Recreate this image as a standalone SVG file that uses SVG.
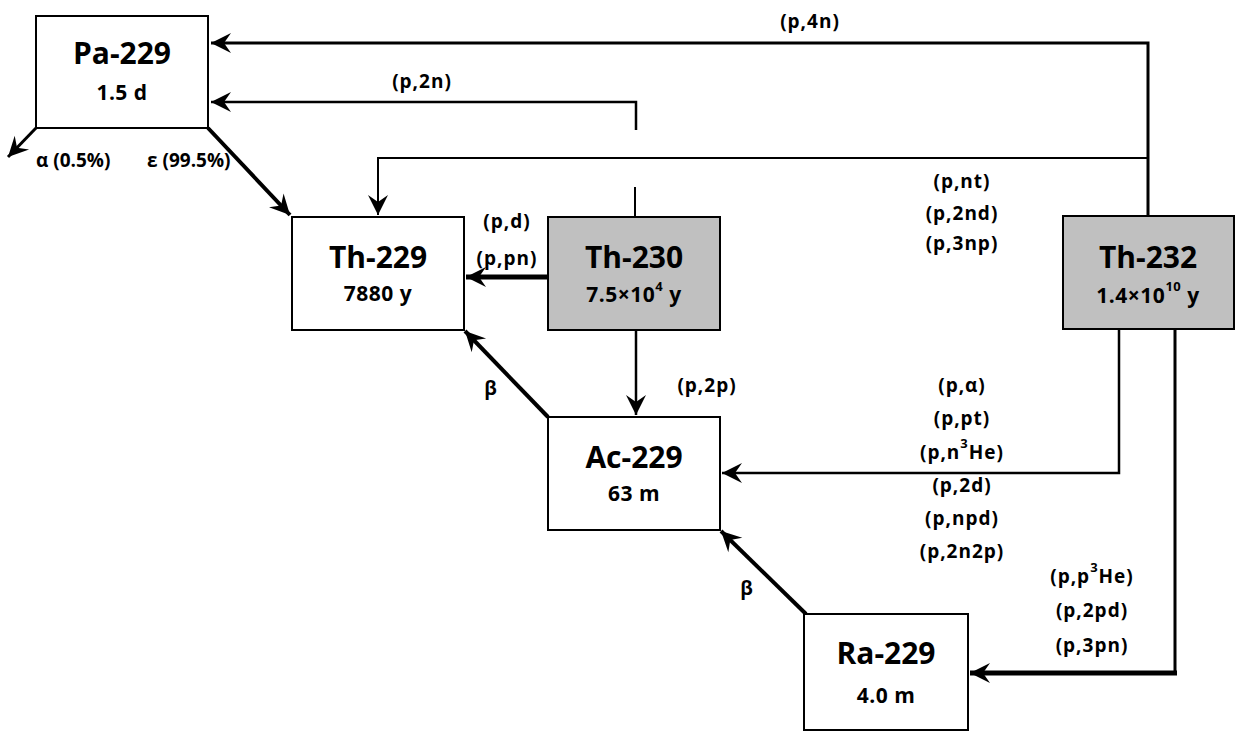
<svg xmlns="http://www.w3.org/2000/svg" width="1239" height="732" viewBox="0 0 1239 732">
<style>
.box{fill:#fff;stroke:#000;stroke-width:2}
.gray{fill:#c0c0c0}
.t{font-family:"Open Sans","Liberation Sans",sans-serif;font-weight:bold;text-anchor:middle;fill:#000}
.title{font-size:30px}
.sub{font-size:21px;letter-spacing:0.5px}
.lab{font-size:19px;letter-spacing:1px}
.ln{fill:none;stroke:#000}
.sup{font-size:13px}
</style>
<defs>
<marker id="ah" viewBox="-21 -11 22 22" refX="0" refY="0" markerWidth="22" markerHeight="22" markerUnits="userSpaceOnUse" orient="auto">
<path d="M0,0 L-20,-10 L-13,0 L-20,10 Z" fill="#000"/>
</marker>
</defs>
<g id="connectors">
<path class="ln" stroke-width="3" d="M1148,216 V43 H211" marker-end="url(#ah)"/>
<path class="ln" stroke-width="2" d="M1148,158 H378 V215" marker-end="url(#ah)"/>
<path class="ln" stroke-width="2.5" d="M636,130 V102 H211" marker-end="url(#ah)"/>
<path class="ln" stroke-width="2" d="M635,187 V217"/>
<path class="ln" stroke-width="5" d="M548,277 H466" marker-end="url(#ah)"/>
<path class="ln" stroke-width="2.5" d="M636,330 V415" marker-end="url(#ah)"/>
<path class="ln" stroke-width="2.5" d="M1119,329 V473 H722" marker-end="url(#ah)"/>
<path class="ln" stroke-width="3" d="M1175,329 V673"/>
<path class="ln" stroke-width="5" d="M1177,673 H970" marker-end="url(#ah)"/>
<path class="ln" stroke-width="4" d="M208,128 L290,215" marker-end="url(#ah)"/>
<path class="ln" stroke-width="3" d="M36,128 L8,157" marker-end="url(#ah)"/>
<path class="ln" stroke-width="4" d="M548,417 L465,331" marker-end="url(#ah)"/>
<path class="ln" stroke-width="4" d="M806,614 L721,531" marker-end="url(#ah)"/>
<text class="t lab" x="810" y="28">(p,4n)</text>
<text class="t lab" x="422" y="88">(p,2n)</text>
<text class="t lab" x="36" y="167" style="text-anchor:start;letter-spacing:0">α (0.5%)</text>
<text class="t lab" x="147" y="167" style="text-anchor:start;letter-spacing:0">ε (99.5%)</text>
<text class="t lab" x="507" y="228">(p,d)</text>
<text class="t lab" x="507" y="265">(p,pn)</text>
<text class="t lab" x="707" y="392">(p,2p)</text>
<text class="t lab" x="491" y="395">β</text>
<text class="t lab" x="747" y="595">β</text>
<text class="t lab" x="962" y="188">(p,nt)</text>
<text class="t lab" x="962" y="220">(p,2nd)</text>
<text class="t lab" x="962" y="250">(p,3np)</text>
<text class="t lab" x="962" y="392">(p,α)</text>
<text class="t lab" x="962" y="425">(p,pt)</text>
<text class="t lab" x="962" y="459">(p,n<tspan class="sup" dy="-11">3</tspan><tspan dy="11">He)</tspan></text>
<text class="t lab" x="962" y="492">(p,2d)</text>
<text class="t lab" x="962" y="525">(p,npd)</text>
<text class="t lab" x="962" y="558">(p,2n2p)</text>
<text class="t lab" x="1092" y="583">(p,p<tspan class="sup" dy="-11">3</tspan><tspan dy="11">He)</tspan></text>
<text class="t lab" x="1092" y="617">(p,2pd)</text>
<text class="t lab" x="1092" y="652">(p,3pn)</text>
</g>
<g id="Pa-229">
<rect class="box" x="36" y="16" width="172" height="112"/>
<text class="t title" x="122" y="64">Pa-229</text>
<text class="t sub" x="122" y="100">1.5 d</text>
</g>
<g id="Th-229">
<rect class="box" x="292" y="217" width="172" height="113"/>
<text class="t title" x="378" y="268">Th-229</text>
<text class="t sub" x="378" y="301">7880 y</text>
</g>
<g id="Th-230">
<rect class="box gray" x="548" y="217" width="172" height="113"/>
<text class="t title" x="634" y="268">Th-230</text>
<text class="t sub" x="634" y="302">7.5×10<tspan class="sup" dy="-11">4</tspan><tspan dy="11"> y</tspan></text>
</g>
<g id="Th-232">
<rect class="box gray" x="1063" y="216" width="171" height="113"/>
<text class="t title" x="1148" y="268">Th-232</text>
<text class="t sub" x="1148" y="303">1.4×10<tspan class="sup" dy="-12">10</tspan><tspan dy="12"> y</tspan></text>
</g>
<g id="Ac-229">
<rect class="box" x="548" y="417" width="172" height="113"/>
<text class="t title" x="634" y="468">Ac-229</text>
<text class="t sub" x="634" y="501">63 m</text>
</g>
<g id="Ra-229">
<rect class="box" x="804" y="614" width="164" height="116"/>
<text class="t title" x="886" y="664">Ra-229</text>
<text class="t sub" x="886" y="703">4.0 m</text>
</g>
</svg>
